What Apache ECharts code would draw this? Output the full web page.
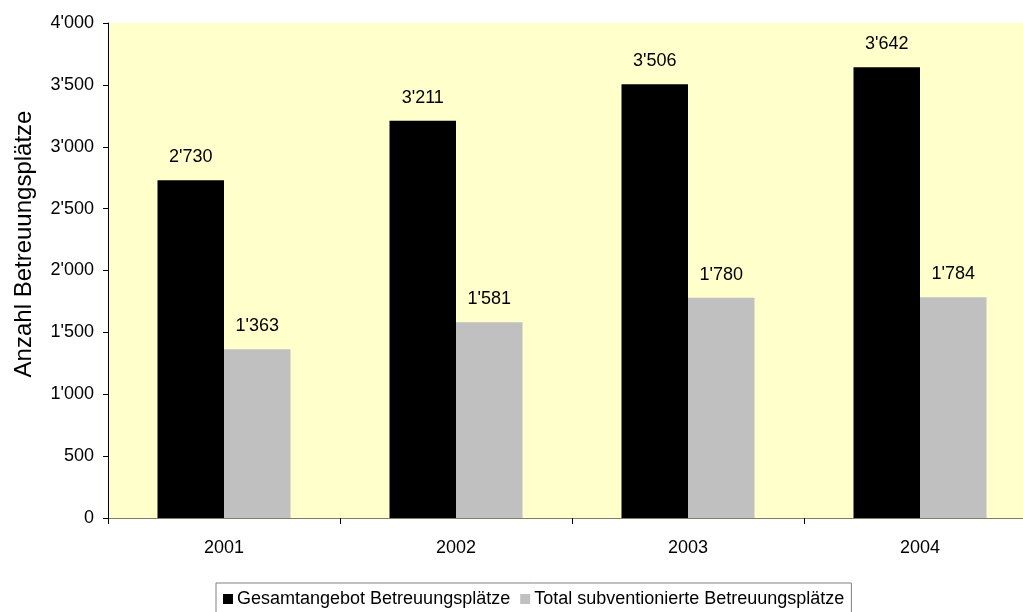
<!DOCTYPE html>
<html><head><meta charset="utf-8">
<script src="https://cdn.jsdelivr.net/npm/echarts@6/dist/echarts.min.js"></script>
<style>html,body{margin:0;padding:0;background:#fff;overflow:hidden}#c{width:1036px;height:612px}</style>
</head><body><div id="c"></div>
<script>
const categories = ['2001', '2002', '2003', '2004'];
const gesamtangebot = [2730, 3211, 3506, 3642];
const subventioniert = [1363, 1581, 1780, 1784];
const yTicks = [0, 500, 1000, 1500, 2000, 2500, 3000, 3500, 4000];
const seriesNames = ['Gesamtangebot Betreuungsplätze', 'Total subventionierte Betreuungsplätze'];
const yTitle = 'Anzahl Betreuungsplätze';

function fmt(v) {
  const s = String(Math.round(v));
  return s.replace(/\B(?=(\d{3})+(?!\d))/g, "'");
}
const font = 'Liberation Sans, Arial, sans-serif';
const chart = echarts.init(document.getElementById('c'));
chart.setOption({
  animation: false,
  textStyle: { fontFamily: font },
  grid: { left: 108, right: 0, top: 23, bottom: 94, show: true, backgroundColor: '#FFFFCC', borderWidth: 0, containLabel: false, outerBoundsMode: 'none' },
  graphic: [{
    type: 'text', x: 24, y: 244, rotation: Math.PI / 2,
    style: { text: yTitle, fontSize: 24, fill: '#000', fontFamily: font, align: 'center', verticalAlign: 'middle' }
  }],
  legend: {
    left: 216, top: 583, orient: 'horizontal',
    itemWidth: 10, itemHeight: 10, itemGap: 10,
    borderColor: '#808080', borderWidth: 1, padding: [7, 7, 7, 7],
    icon: 'rect',
    textStyle: { fontSize: 18, color: '#000', fontFamily: font, padding: [0, 0, 0, -1] },
    data: seriesNames
  },
  xAxis: {
    type: 'category', data: categories,
    axisLine: { lineStyle: { color: '#7f7f5f', width: 1 } },
    axisTick: { show: true, length: 6, lineStyle: { color: '#000' } },
    axisLabel: { fontSize: 18, color: '#000', margin: 21, fontFamily: font },
    splitLine: { show: false }
  },
  yAxis: {
    type: 'value', min: yTicks[0], max: yTicks[yTicks.length - 1], interval: 500,
    axisLine: { show: true, lineStyle: { color: '#000' } },
    axisTick: { show: true, length: 5, lineStyle: { color: '#000' } },
    axisLabel: { fontSize: 18, color: '#000', margin: 14, formatter: fmt, fontFamily: font },
    splitLine: { show: false }
  },
  series: [
    {
      name: seriesNames[0], type: 'bar', data: gesamtangebot,
      itemStyle: { color: '#000000' },
      barWidth: 66.5, barGap: '0%', barCategoryGap: '42.7%',
      label: { show: true, position: 'top', distance: 14, fontSize: 18, color: '#000', formatter: p => fmt(p.value), fontFamily: font }
    },
    {
      name: seriesNames[1], type: 'bar', data: subventioniert,
      itemStyle: { color: '#C0C0C0' },
      barWidth: 66.5, barGap: '0%',
      label: { show: true, position: 'top', distance: 14, fontSize: 18, color: '#000', formatter: p => fmt(p.value), fontFamily: font }
    }
  ]
});
</script></body></html>
